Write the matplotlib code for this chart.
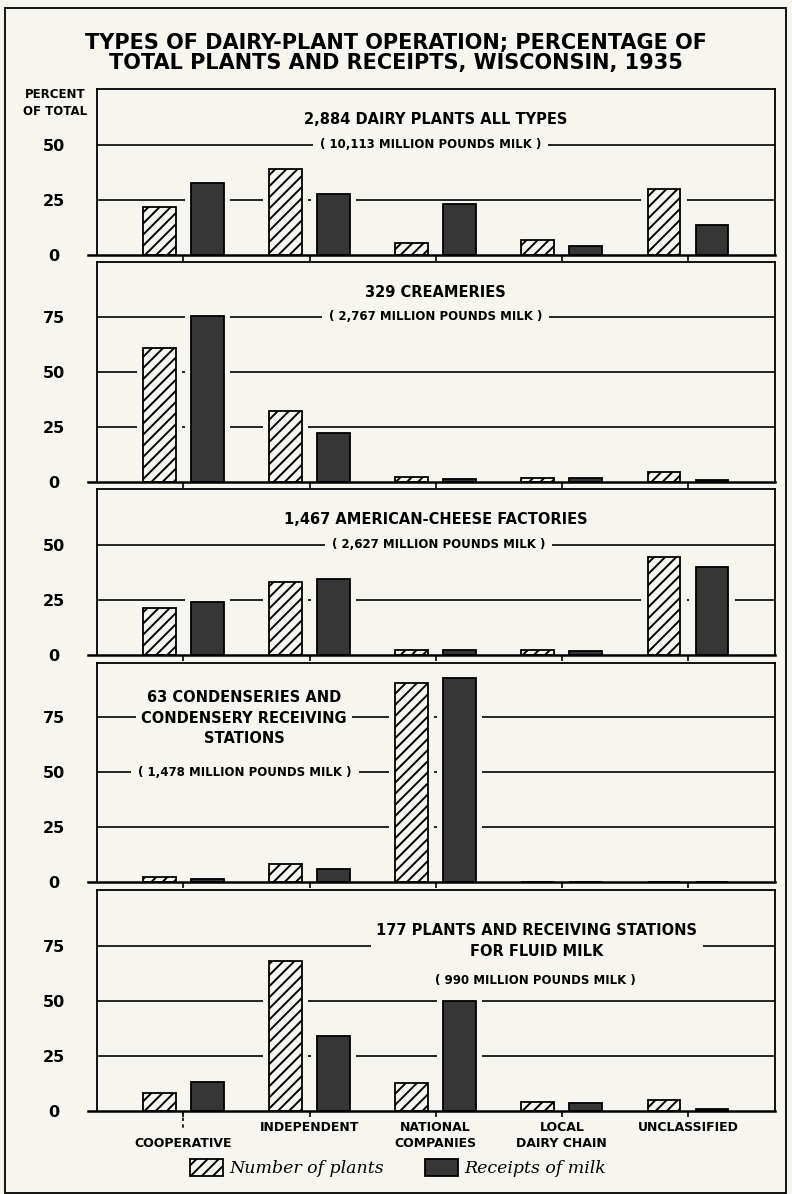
import numpy as np
import matplotlib
matplotlib.use("Agg")
import matplotlib.pyplot as plt
from matplotlib.patches import Patch, Rectangle

# ---- data (percent of total) ----
categories = ["COOPERATIVE", "INDEPENDENT", "NATIONAL\nCOMPANIES", "LOCAL\nDAIRY CHAIN", "UNCLASSIFIED"]

plants_all = [21.7, 39.2, 5.5, 7.0, 29.9]
receipts_all = [32.9, 27.7, 23.2, 4.2, 13.8]
plants_creamery = [60.9, 32.3, 2.3, 2.0, 4.7]
receipts_creamery = [75.3, 22.1, 1.4, 1.7, 1.0]
plants_cheese = [21.2, 33.2, 2.3, 2.1, 44.7]
receipts_cheese = [24.1, 34.5, 2.1, 1.8, 40.2]
plants_condensery = [2.1, 8.2, 90.3, 0.0, 0.0]
receipts_condensery = [1.5, 6.1, 92.8, 0.0, 0.0]
plants_fluid = [8.3, 68.0, 12.7, 4.1, 4.8]
receipts_fluid = [13.0, 34.0, 50.0, 3.5, 0.8]

titles = ["2,884 DAIRY PLANTS ALL TYPES", "329 CREAMERIES", "1,467 AMERICAN-CHEESE FACTORIES",
          "63 CONDENSERIES AND\nCONDENSERY RECEIVING\nSTATIONS",
          "177 PLANTS AND RECEIVING STATIONS\nFOR FLUID MILK"]
subtitles = ["( 10,113 MILLION POUNDS MILK )", "( 2,767 MILLION POUNDS MILK )",
             "( 2,627 MILLION POUNDS MILK )", "( 1,478 MILLION POUNDS MILK )",
             "( 990 MILLION POUNDS MILK )"]
grid_levels = [[25, 50], [25, 50, 75], [25, 50], [25, 50, 75], [25, 50, 75]]

BG = "#f6f5ef"
DARK = "#363636"
W, H = 792, 1194
PX = 2.2           # pixels per percent point, same in every panel
AX_L, AX_R = 97, 775
XLIM = (-0.685, 4.69)

plt.rcParams["font.family"] = ["DejaVu Sans"]
plt.rcParams["hatch.linewidth"] = 1.4

fig = plt.figure(figsize=(W / 100, H / 100), dpi=100, facecolor=BG)

# panel (top px, zero-line px)
panels = [(89, 255), (262, 482), (489, 655), (663, 882), (890, 1111)]
series = [(plants_all, receipts_all), (plants_creamery, receipts_creamery),
          (plants_cheese, receipts_cheese), (plants_condensery, receipts_condensery),
          (plants_fluid, receipts_fluid)]
# title / subtitle anchor (x in category units, y in percent)
title_pos = [(2.0, 61.8), (2.0, 86), (2.0, 61.4), (0.48, 74.5), (2.8, 77.2)]
sub_pos = [(1.96, 50), (2.0, 75), (2.02, 50), (0.49, 50), (2.79, 59.5)]

x = np.arange(len(categories))
bw, off, margin = 0.26, 0.19, 0.05
bold = dict(fontweight="bold", color="black")

axes = []
for k, ((top, zero), (pl, rc)) in enumerate(zip(panels, series)):
    ax = fig.add_axes([AX_L / W, 1 - zero / H, (AX_R - AX_L) / W, (zero - top) / H])
    ax.set_facecolor(BG)
    ax.set_xlim(*XLIM)
    ax.set_ylim(0, (zero - top) / PX)
    for s in ["left", "right", "top"]:
        ax.spines[s].set_linewidth(1.3)
    ax.spines["bottom"].set_visible(False)

    for g in grid_levels[k]:
        ax.axhline(g, color="black", lw=1.2, zorder=1)
    ax.axhline(0, xmin=-9 / (AX_R - AX_L), xmax=1, color="black", lw=1.8, zorder=6, clip_on=False)

    # background-coloured masks break the grid lines around the bars
    ax.bar(x - off, np.array(pl) + 1.2, width=bw + 2 * margin, color=BG, lw=0, zorder=2)
    ax.bar(x + off, np.array(rc) + 1.2, width=bw + 2 * margin, color=BG, lw=0, zorder=2)
    ax.bar(x - off, pl, width=bw, facecolor=BG, edgecolor="black", hatch="///", lw=1.3, zorder=4)
    ax.bar(x + off, rc, width=bw, facecolor=DARK, edgecolor="black", lw=1.3, zorder=4)

    ticks = [0] + grid_levels[k]
    ax.set_yticks(ticks)
    ax.set_yticklabels([str(t) for t in ticks], fontsize=11.5, **bold)
    for lbl in ax.get_yticklabels():
        lbl.set_ha("center")
    ax.tick_params(axis="y", length=0, pad=31)
    ax.set_xticks(x)
    ax.tick_params(axis="x", direction="out", length=4, width=1.2, labelbottom=False)

    box = dict(facecolor=BG, edgecolor="none", pad=4)
    tx, ty = title_pos[k]
    ax.text(tx, ty, titles[k], ha="center", va="center", fontsize=10.5, linespacing=1.45,
            bbox=box, zorder=3, **bold)
    sx, sy = sub_pos[k]
    ax.text(sx, sy, subtitles[k], ha="center", va="center", fontsize=8.5,
            bbox=dict(facecolor=BG, edgecolor="none", pad=5), zorder=3, **bold)
    axes.append(ax)

# y-axis caption
fig.text(55 / W, 1 - 103 / H, "PERCENT\nOF TOTAL", ha="center", va="center",
         fontsize=8.5, linespacing=1.35, **bold)

# category labels under the last panel
ax5 = axes[-1]
for i, c in enumerate(categories):
    y_lab = -11.8 if i == 0 else -4.5
    ax5.text(i, y_lab, c, ha="center", va="top", fontsize=9, linespacing=1.3,
             clip_on=False, **bold)
ax5.plot([0, 0], [0, -9], color="black", lw=1.2, ls=(0, (2, 2)), clip_on=False)

# legend
handles = [Patch(facecolor=BG, edgecolor="black", hatch="///", lw=1.3),
           Patch(facecolor=DARK, edgecolor="black", lw=1.3)]
fig.legend(handles, ["Number of plants", "Receipts of milk"], loc="center",
           bbox_to_anchor=(398 / W, 1 - 1168 / H), ncol=2, frameon=False,
           prop=dict(family="DejaVu Serif", style="italic", size=12.5),
           handlelength=1.9, handleheight=1.1, handletextpad=0.35, columnspacing=2.4)

# title
fig.text(0.5, 1 - 43 / H, "TYPES OF DAIRY-PLANT OPERATION; PERCENTAGE OF", ha="center",
         va="center", fontsize=15, fontweight="bold")
fig.text(0.5, 1 - 63 / H, "TOTAL PLANTS AND RECEIPTS, WISCONSIN, 1935", ha="center",
         va="center", fontsize=15, fontweight="bold")

# outer border
fig.add_artist(Rectangle((5 / W, 1 / H), 781 / W, 1185 / H, transform=fig.transFigure,
                         fill=False, edgecolor="black", lw=1.3))

fig.savefig("out.png", dpi=100, facecolor=BG)
